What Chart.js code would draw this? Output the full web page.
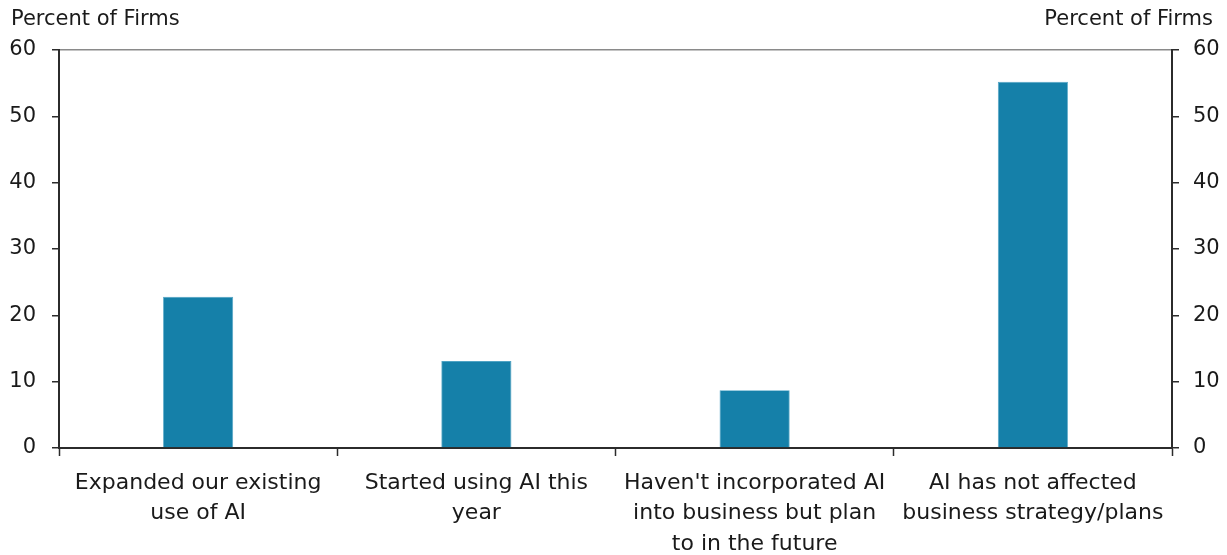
<!DOCTYPE html>
<html>
<head>
<meta charset="utf-8">
<script src="https://cdn.jsdelivr.net/npm/chart.js@4.4.1/dist/chart.umd.min.js"></script>
<style>
  html, body { margin: 0; padding: 0; background: #fff; }
  #wrap { width: 1227px; height: 555px; position: relative; }
</style>
</head>
<body>
<div id="wrap"><canvas id="c" width="1227" height="555"></canvas></div>
<script>
const categories = [
  ["Expanded our existing", "use of AI"],
  ["Started using AI this", "year"],
  ["Haven't incorporated AI", "into business but plan", "to in the future"],
  ["AI has not affected", "business strategy/plans"]
];
const values = [22.8, 13.1, 8.7, 55.2];
const yTicks = [0, 10, 20, 30, 40, 50, 60];
const axisTitle = "Percent of Firms";

const FONT = "'DejaVu Sans', sans-serif";
const TXT = '#1a1a1a';

const titlePlugin = {
  id: 'titles',
  afterDraw(chart) {
    const ctx = chart.ctx;
    ctx.save();
    ctx.fillStyle = TXT;
    ctx.font = "21px " + FONT;
    ctx.textBaseline = 'middle';
    ctx.textAlign = 'left';
    ctx.fillText(axisTitle, 11, 20);
    ctx.textAlign = 'right';
    ctx.fillText(axisTitle, 1213, 20);
    ctx.restore();
  }
};

const yCommon = (pos) => ({
  position: pos,
  min: 0, max: 60,
  afterBuildTicks(scale) { scale.ticks = yTicks.map(v => ({ value: v })); },
  afterFit(scale) { scale.width = pos === 'left' ? 59 : 55; },
  border: { display: true, color: '#2b2b2b', width: 2 },
  grid: {
    drawOnChartArea: pos === 'left',
    drawTicks: true,
    tickLength: 7,
    tickWidth: 1.5,
    tickColor: '#2b2b2b',
    lineWidth: 1.5,
    color: (c) => (c.tick && c.tick.value === 60) ? '#8a8a8a' : 'rgba(0,0,0,0)'
  },
  ticks: {
    color: TXT,
    font: { family: FONT, size: 21 },
    padding: pos === 'left' ? 16 : 14
  }
});

new Chart(document.getElementById('c'), {
  type: 'bar',
  data: {
    labels: categories,
    datasets: [{
      data: values,
      backgroundColor: '#1580a9',
      borderColor: '#4fa3c4',
      borderWidth: 0.8,
      borderSkipped: 'bottom',
      categoryPercentage: 1.0,
      barPercentage: 0.252,
      yAxisID: 'y'
    }]
  },
  options: {
    responsive: false,
    animation: false,
    devicePixelRatio: 1,
    layout: { padding: { top: 50, left: 0, right: 0, bottom: 0 } },
    plugins: { legend: { display: false }, tooltip: { enabled: false } },
    scales: {
      x: {
        afterFit(scale) { scale.height = 107; },
        border: { display: true, color: '#2b2b2b', width: 2 },
        grid: {
          offset: true,
          drawOnChartArea: false,
          drawTicks: true,
          tickLength: 8,
          tickWidth: 1.5,
          tickColor: '#2b2b2b'
        },
        ticks: {
          color: TXT,
          font: { family: FONT, size: 22, lineHeight: 1.38 },
          padding: 12,
          maxRotation: 0,
          autoSkip: false
        }
      },
      y: yCommon('left'),
      y2: yCommon('right')
    }
  },
  plugins: [titlePlugin]
});
</script>
</body>
</html>
